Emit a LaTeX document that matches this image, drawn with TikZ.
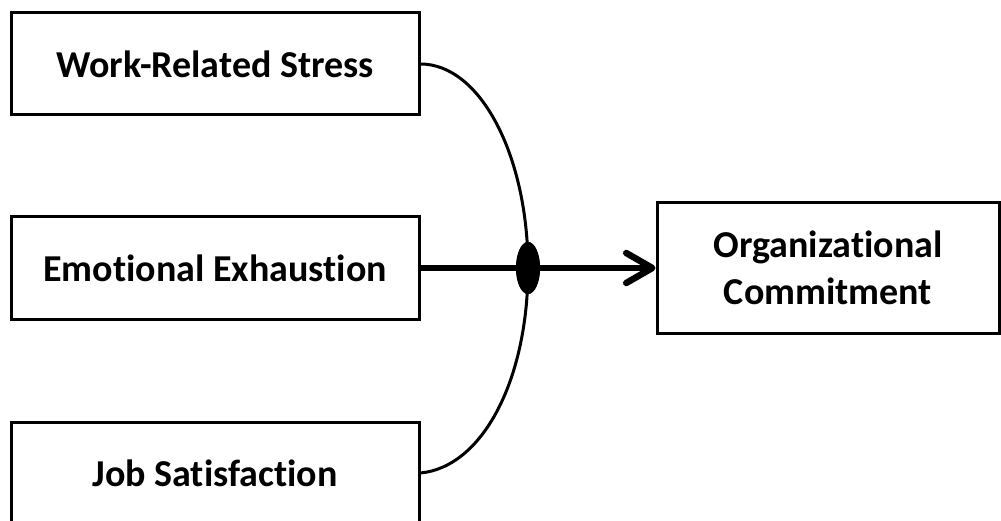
\documentclass[tikz,border=0pt]{standalone}
\usepackage{fontspec}
\setmainfont{Carlito}[Ligatures={NoCommon,NoRare}]
\usetikzlibrary{shapes.geometric,arrows.meta}
\begin{document}
\begin{tikzpicture}[x=1pt,y=-1pt,
  box/.style={draw=black,line width=3pt,fill=white,minimum width=408pt,minimum height=102pt,
    inner sep=0pt,font=\fontsize{38}{47}\selectfont\bfseries,align=center},
  link/.style={line width=3pt},
  main/.style={line width=6.5pt,-{Straight Barb[length=26pt,width=30pt,line cap=round,line join=round]}}]
\useasboundingbox (0,0) rectangle (1001,521);
\clip (0,0) rectangle (1001,521);
\fill[white] (0,0) rectangle (1001,521);
\node[box] (wrs) at (215,64) {Work-Related Stress};
\node[box] (ee) at (215,268) {Emotional Exhaustion};
\node[box] (js) at (215,473) {Job Satisfaction};
\node[box,minimum width=342pt,minimum height=131pt] (oc) at (828,268) {Organizational\\Commitment};
\node[ellipse,fill=black,minimum width=24pt,minimum height=52pt,inner sep=0pt] (ell) at (528,268) {};
\draw[link] (wrs.east) .. controls +(60,0) and +(0,-112) .. (ell.center);
\draw[link] (js.east) .. controls +(62,-6) and +(0,112) .. (ell.center);
\draw[main] (ee.east) -- (ee.east -| oc.west);
\node[ellipse,fill=black,minimum width=24pt,minimum height=52pt,inner sep=0pt] at (ell) {};
\end{tikzpicture}
\end{document}
